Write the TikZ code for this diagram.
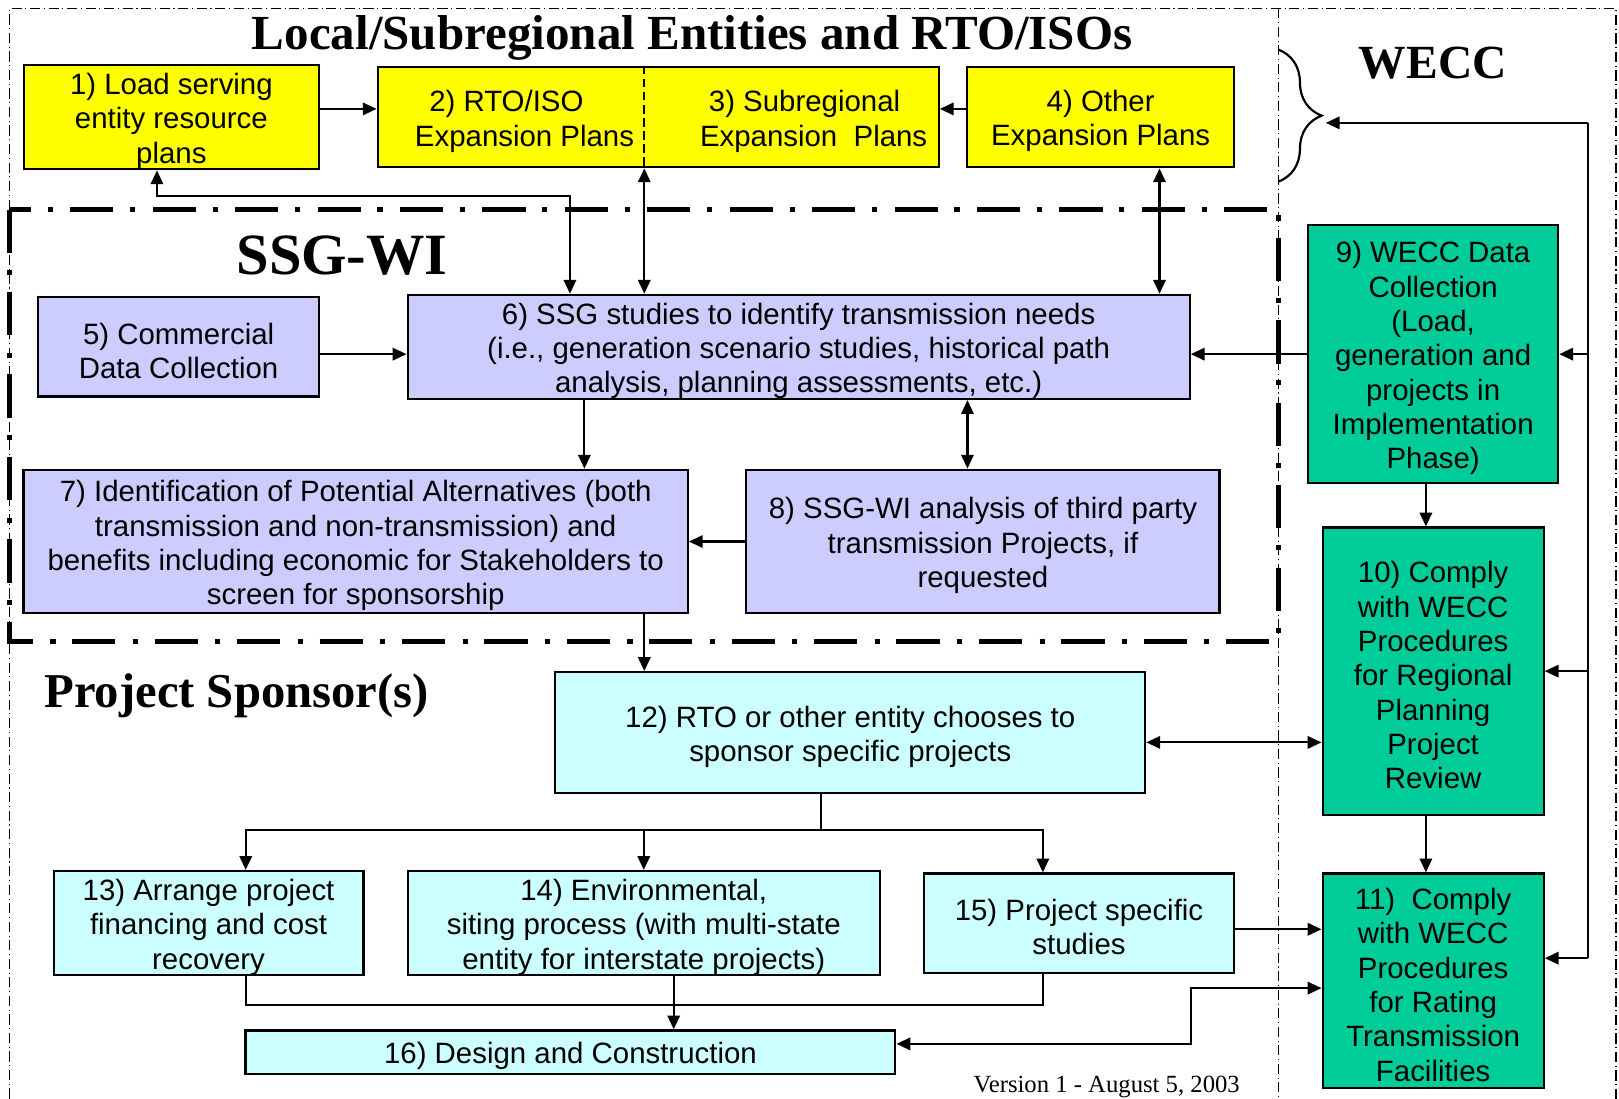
\documentclass[tikz,border=0pt]{standalone}
\usepackage{fontspec}
\setmainfont{Liberation Serif}
\newfontfamily\arialfont{Liberation Sans}
\usetikzlibrary{arrows.meta, calc, positioning, decorations.pathreplacing}
\definecolor{planyellow}{HTML}{FFFF00}
\definecolor{ssgblue}{HTML}{CCCCFF}
\definecolor{weccgreen}{HTML}{00CC99}
\definecolor{sponsorcyan}{HTML}{CCFFFF}
\newcommand{\boxfont}{\arialfont\fontsize{8.1pt}{9.45pt}\selectfont}
\newcommand{\lift}{\rule{0pt}{8.1pt}}

\begin{document}
\begin{tikzpicture}[
    x=0.01cm, y=-0.01cm,
    >={Triangle[length=3.8pt,width=3.4pt]},
    line width=0.6pt,
    block/.style={draw, rectangle, inner sep=0pt, align=center, font=\boxfont},
    plan/.style={block, fill=planyellow},
    study/.style={block, fill=ssgblue},
    wecc/.style={block, fill=weccgreen},
    sponsor/.style={block, fill=sponsorcyan},
    heading/.style={anchor=base west, inner sep=0pt, font=\bfseries\fontsize{#1}{#1}\selectfont},
    signal/.style={->},
    outerframe/.style={line width=0.4pt, dash pattern=on 2.8pt off 1pt on 0.3pt off 1pt},
    ssgframe/.style={line width=1.3pt, dash pattern=on 11.9pt off 4.8pt on 1.4pt off 4.6pt}
]
    \useasboundingbox (0,0) rectangle (1568,1064);

    % Region frames
    \draw [outerframe] (9,1064) -- (9,8) -- (1565,8) -- (1565,1064);
    \draw [outerframe] (1238,8) -- (1238,1064);
    \draw [ssgframe] (9,203) rectangle (1238,621);

    % Titles
    \node [heading=13.5pt] (localtitle) at (243,48) {Local/Subregional Entities and RTO/ISOs};
    \node [heading=16.1pt] (ssgtitle) at (228,266) {SSG-WI};
    \node [heading=13.1pt] (wecctitle) at (1315,76) {WECC};
    \node [heading=13.4pt] (sponsortitle) at (42,685) {Project Sponsor(s)};
    \node [anchor=base west, inner sep=0pt, font=\fontsize{6.8pt}{8pt}\selectfont] (version) at (942,1058) {Version 1 - August 5, 2003};

    % Local / subregional plans
    \node [plan, minimum width=2.86cm, minimum height=0.97cm] (lse) at (166,113.5) {\lift 1) Load serving\\entity resource\\plans};
    \node [plan, minimum width=5.43cm, minimum height=0.97cm] (rto) at (637.5,113.5) {};
    \node [font=\boxfont, align=center, yshift=-1.15pt] (rtoplan) at (508,113.5) {2) RTO/ISO\hspace*{10pt}\\Expansion Plans};
    \node [font=\boxfont, align=center, yshift=-1.15pt] (subplan) at (788,113.5) {3) Subregional\hspace*{5pt}\\Expansion~ Plans};
    \coordinate (split) at (624,113.5);
    \draw [line width=0.5pt, dash pattern=on 2.3pt off 1.3pt] (split |- rto.north) -- (split |- rto.south);
    \node [plan, minimum width=2.58cm, minimum height=0.97cm] (other) at (1066,113.5) {\lift 4) Other\\Expansion Plans};

    % SSG-WI studies
    \node [study, minimum width=2.72cm, minimum height=0.96cm] (commercial) at (173,336) {\lift 5) Commercial\\Data Collection};
    \node [study, minimum width=7.57cm, minimum height=0.96cm] (needs) at (773.5,336) {\lift 6) SSG studies to identify transmission needs\\(i.e., generation scenario studies, historical path\\analysis, planning assessments, etc.)};
    \node [study, minimum width=6.43cm, minimum height=1.39cm] (alternatives) at (344.5,524.5) {\lift 7) Identification of Potential Alternatives (both\\transmission and non-transmission) and\\benefits including economic for Stakeholders to\\screen for sponsorship};
    \node [study, minimum width=4.58cm, minimum height=1.39cm] (thirdparty) at (952,524.5) {\lift 8) SSG-WI analysis of third party\\transmission Projects, if\\requested};

    % WECC
    \node [wecc, minimum width=2.42cm, minimum height=2.5cm] (datacoll) at (1388,343) {\lift 9) WECC Data\\Collection\\(Load,\\generation and\\projects in\\Implementation\\Phase)};
    \node [wecc, minimum width=2.14cm, minimum height=2.78cm] (regional) at (1388,650) {\lift 10) Comply\\with WECC\\Procedures\\for Regional\\Planning\\Project\\Review};
    \node [wecc, minimum width=2.14cm, minimum height=2.08cm] (rating) at (1388,950) {\lift 11)~ Comply\\with WECC\\Procedures\\for Rating\\Transmission\\Facilities};

    % Project sponsors
    \node [sponsor, minimum width=5.71cm, minimum height=1.17cm] (chooses) at (823.5,709.5) {\lift 12) RTO or other entity chooses to\\sponsor specific projects};
    \node [sponsor, minimum width=3cm, minimum height=0.96cm] (financing) at (202,894) {\lift 13) Arrange project\\financing and cost\\recovery};
    \node [sponsor, minimum width=4.57cm, minimum height=0.96cm] (siting) at (623.5,894) {\lift 14) Environmental,\\siting process (with multi-state\\entity for interstate projects)};
    \node [sponsor, minimum width=3cm, minimum height=0.96cm] (studies) at (1045,894) {\lift 15) Project specific\\studies};
    \node [sponsor, minimum width=6.29cm, minimum height=0.42cm] (construction) at (552.5,1019) {\lift 16) Design and Construction};

    % WECC brace and feedback rail
    \draw [decorate, decoration={brace, amplitude=0.42cm}] (1238,48) -- (1238,176);
    \coordinate (bracetip) at (1284,119);
    \coordinate (railtop) at (1538,119);
    \coordinate (railend) at (1538,928);
    \draw [signal] (railtop) -- (bracetip);
    \draw (railtop) -- (railend);
    \draw [signal] (railtop |- datacoll.east) -- (datacoll.east);
    \draw [signal] (railtop |- regional.east) -- (regional.east);
    \draw [signal] (railend) -- (railend -| rating.east);

    % Top row
    \draw [signal] ($(lse.east)+(0,-8)$) -- ($(rto.west)+(0,-8)$);
    \draw [signal] ($(other.west)+(0,-8)$) -- ($(rto.east)+(0,-8)$);

    % Plans <-> SSG studies
    \coordinate (lsetap) at (152,190);
    \coordinate (needstap) at (552,190);
    \draw [<->] (lsetap |- lse.south) -- (lsetap) -- (needstap) -- (needstap |- needs.north);
    \draw [<->] (split |- rto.south) -- (split |- needs.north);
    \coordinate (othertap) at ($(other.south)+(57,0)$);
    \draw [<->] (othertap) -- (othertap |- needs.north);

    % Inside SSG-WI
    \draw [signal] (commercial.east |- datacoll.west) -- (needs.west |- datacoll.west);
    \draw [signal] (datacoll.west) -- (needs.east |- datacoll.west);
    \coordinate (needsout) at ($(needs.south)+(-207.5,0)$);
    \draw [signal] (needsout) -- (needsout |- alternatives.north);
    \coordinate (thirdtap) at ($(thirdparty.north)+(-15,0)$);
    \draw [<->] (thirdtap |- needs.south) -- (thirdtap);
    \draw [signal] (thirdparty.west) -- (alternatives.east);
    \draw [signal] (split |- alternatives.south) -- (split |- chooses.north);

    % WECC column
    \coordinate (wecccol) at ($(datacoll.south)+(-7,0)$);
    \draw [signal] (wecccol) -- (wecccol |- regional.north);
    \draw [signal] (wecccol |- regional.south) -- (wecccol |- rating.north);
    \coordinate (chooseslink) at ($(chooses.east)+(0,9.5)$);
    \draw [<->] (chooseslink) -- (chooseslink -| regional.west);

    % Sponsor fan-out
    \coordinate (fork) at ($(chooses.south)+(-28.5,35)$);
    \draw (fork |- chooses.south) -- (fork);
    \draw [signal] (fork) -| ($(financing.north)+(36,0)$);
    \draw [signal] (fork) -| ($(studies.north)+(-35,0)$);
    \draw [signal] (fork -| siting.north) -- (siting.north);

    % Fan-in to construction
    \coordinate (merge) at ($(siting.south)+(29,28)$);
    \draw ($(financing.south)+(36,0)$) |- (merge) -| ($(studies.south)+(-35,0)$);
    \draw [signal] (merge |- siting.south) -- (merge |- construction.north);
    \coordinate (studylink) at ($(studies.east)+(0,6)$);
    \draw [signal] (studylink) -- (studylink -| rating.west);
    \coordinate (buildlink) at ($(construction.east)+(0,-8)$);
    \draw [<->] (buildlink) -- ++(285,0) |- ($(rating.west)+(0,7)$);

\end{tikzpicture}
\end{document}
